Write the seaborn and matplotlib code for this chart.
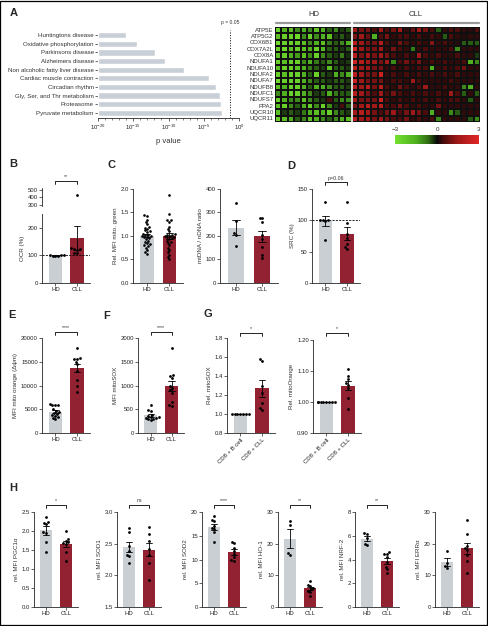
import numpy as np
import pandas as pd
import matplotlib
matplotlib.use("Agg")
import matplotlib.pyplot as plt
import matplotlib.transforms as mtransforms
from matplotlib.colors import LinearSegmentedColormap
from matplotlib.patches import Rectangle
import seaborn as sns
import warnings
warnings.filterwarnings('ignore')

W, H = 489, 626
GRAY = "#c8cfd6"
RED = "#a50f23"

# ---- A: pathway enrichment ----
pathways = ["Huntingtons disease", "Oxidative phosphorylation", "Parkinsons disease",
            "Alzheimers disease", "Non alcoholic fatty liver disease",
            "Cardiac muscle contraction", "Circadian rhythm",
            "Gly, Ser, and Thr metabolism", "Proteasome", "Pyruvate metabolism"]
pvalues = [1e-16, 3e-15, 1.3e-12, 3.5e-11, 1.6e-8, 5e-5, 5e-4, 2.2e-3, 2.8e-3, 4e-3]

# ---- A: heatmap ----
genes = ["ATP5E", "ATP5G2", "COX6B1", "COX7A2L", "COX8A", "NDUFA1", "NDUFA10", "NDUFA2",
         "NDUFA7", "NDUFB8", "NDUFC1", "NDUFS7", "PPA2", "UQCR10", "UQCR11"]
hd_expr = [
    [-2.5, -1.5, -2, -1, -1.5, -1, -2, -1.5, -0.5, -1, -0.3, -0.5],
    [-2, -2.5, -2.5, -2.8, -1, -2.5, -1, -1.5, -2, -0.3, -0.5, -0.2],
    [-2.8, -2.5, -2.5, -2.5, -2, -1, -1.5, -2, -0.8, -0.5, -1, -1.5],
    [-2.5, -2.8, -2, -2.5, -2, -1.5, -2.5, -1.8, -0.5, -0.5, -0.3, -0.5],
    [-2, -2.5, -1.5, -1.2, -2, -1, -2.5, -1, -0.5, -0.3, -0.8, -0.2],
    [-2.5, -2, -2.5, -2.5, -1, -1.5, -0.8, -0.5, -1, -0.5, -0.2, -0.3],
    [-2, -2.5, -2.5, -2, -1.5, -0.8, -0.5, -0.3, -2, -0.5, -0.5, -0.3],
    [-2.5, -2, -2.5, -2.5, -1.5, -0.5, -2.5, -0.5, -0.3, -1.5, -1, -1.5],
    [-2.8, -2.5, -2.5, -2.5, -1.5, -1, -0.5, -0.5, -0.3, -0.5, -0.5, -0.3],
    [-2, -1.5, -2.5, -2.5, -1.5, -0.5, -1.5, -1.5, -1, -0.5, -0.5, -0.3],
    [-1, -1.5, -2.5, -2.5, -1.5, -1, -0.3, -0.5, -1.5, -0.8, -0.5, -0.5],
    [-2.5, -1.5, -1, -1, -2, -1, -0.5, -0.3, 0.5, -0.5, -1, -1],
    [-2, -2.5, -1, -0.5, -1.5, -2.5, -1, -2.5, -1, -0.3, 0.5, -0.5],
    [-2, -0.3, -0.5, -0.3, -0.8, -1.5, -2, -1.5, -2.5, -1, -0.5, -0.3],
    [-2.5, -2, -1.5, -0.5, -1, -2, -1.5, -1, -0.5, -1, -1.5, -2],
]
cll_expr = [
    [1.5, 1, 1, 0.5, 1.5, 0.5, 1, 1.5, 0.3, 0.8, 1.5, 1, 0.5, -0.5, 0.3, 0.5, 0.5, 0.3, 0.2, 0.5],
    [1, 1.5, 0.8, -1.5, 0.5, 1, 0.3, 0.5, 0.5, 0.3, 0.5, 0.2, 0.5, 0.3, -0.5, 0.5, 0.3, 0.2, 0.3, 0.3],
    [2, 1.5, 1, 1, 2, 0.5, 0.3, 1, 0.5, 0.3, 0.5, 0.3, 1.2, 0.3, 0.5, 0.3, 0.2, -0.5, -0.5, -0.5],
    [2.5, 1.5, 1, 1, 1.5, 0.3, 1, 0.5, 0.3, -0.8, 0.3, 0.5, 0.3, 0.3, 0.3, 0.5, -1, 0.3, 0.3, 0.3],
    [2, 1, 1.5, 1, 1.5, 1, 0.5, 0.3, 0.5, 0.3, 1.5, 0.5, 0.3, 0.5, 0.3, 0.3, 0.5, 0.3, 0.3, -0.3],
    [2.5, 2, 1.5, 1.5, 1, 1.5, -1, 0.5, 1, 0.5, 1, 0.3, 0.5, 0.3, 0.5, 0.3, 0.3, 0.5, -1.5, -1],
    [2, 1.5, 1.5, 1, 1, 0.3, 0.5, 0.3, 0.5, 0.3, 0.5, 0.5, -1.5, 0.3, 0.5, 0.3, 0.5, 1, 0.3, 0.3],
    [2, 1.5, 1, 1, 2.5, 0.3, 0.5, 0.3, 0.5, 0.3, 0.5, 0.3, 0.5, 0.3, 0.5, 0.3, 0.5, 0.3, 0.3, 0.3],
    [2.5, 1.5, 1, 1, 1, 0.3, 0.5, 0.5, 0.3, 1.5, 0.5, 0.3, 0.3, 0.3, 0.3, 0.5, 0.3, 0.3, 0.3, 0.3],
    [2, 1.5, 2, 1, 2, 0.5, 0.3, 1, 0.5, 0.3, 0.5, 1.5, 0.3, 0.3, 0.5, 0.3, 0.3, -1, -1.5, 0.3],
    [2, 1.5, 1, 0.5, 1.5, 0.5, 1, 0.5, 0.3, 0.5, 0.3, 0.5, 0.3, 0.5, 0.3, 1.5, 0.5, -0.5, 0.3, -0.5],
    [1.5, 1, 1, 1, 2.5, 0.5, 0.3, 0.5, 0.3, 0.5, 0.3, 0.5, 0.3, 0.5, 0.3, 0.5, 0.5, 0.3, -0.5, 0.3],
    [1, 1.5, 2, 1.5, 2, 0.5, 0.5, 1, 0.5, 0.3, 0.5, 0.3, 0.3, 1, 0.3, 0.3, 0.3, 0.3, 0.3, 0.3],
    [1.5, 2, 1.5, 1, 0.5, 1, 1.5, 0.5, 1, 1.5, 1, 0.5, -1.5, 0.3, 0.3, -1, -0.5, 0.3, 0.3, 0.3],
    [2, 1.5, 1.5, 1, 1.5, 1, 0.5, 0.5, 1, 0.3, 0.5, 0.3, 0.5, -1, 0.3, 0.3, 0.3, 0.3, -0.5, -1],
]

# ---- B-H: per-donor values ----
ocr_hd = [97, 99, 101, 100, 98, 100]
ocr_cll = [430, 126, 124, 122, 120, 108, 110]

green_hd = [1.45, 1.43, 1.35, 1.3, 1.25, 1.2, 1.18, 1.15, 1.12, 1.1, 1.08, 1.05, 1.03, 1.02, 1.0,
            1.0, 0.98, 0.97, 0.95, 0.93, 0.9, 0.88, 0.85, 0.82, 0.8, 0.78, 0.75, 0.7, 0.65, 0.62]
green_cll = [1.87, 1.47, 1.35, 1.33, 1.3, 1.2, 1.15, 1.1, 1.05, 1.03, 1.02, 1.0, 1.0, 0.98,
             0.97, 0.95, 0.93, 0.9, 0.88, 0.85, 0.8, 0.75, 0.7, 0.65, 0.6, 0.55, 0.5]

mtdna_hd = [339, 262, 213, 205, 158]
mtdna_cll = [278, 275, 259, 205, 188, 153, 120, 105]

src_hd = [130, 100, 101, 99, 100, 68]
src_cll = [130, 95, 78, 72, 62, 58, 55]

orange_hd = [6100, 6000, 5900, 5900, 5000, 4700, 4400, 4200, 4000, 3800, 3600, 3400, 3200, 3000]
orange_cll = [17800, 15700, 15500, 15600, 15000, 14500, 13100, 11200, 9900, 8700]

sox_hd = [600, 480, 470, 380, 350, 340, 330, 320, 310, 300, 290, 270]
sox_cll = [1800, 1230, 1200, 1150, 1000, 950, 900, 850, 650, 580, 560]

relsox_b = [1.0, 1.0, 1.0, 1.0, 1.0, 1.0, 1.0]
relsox_cll = [1.58, 1.56, 1.30, 1.22, 1.12, 1.06, 1.04]

relorange_b = [1.0, 1.0, 1.0, 1.0, 1.0, 1.0, 1.0, 1.0]
relorange_cll = [1.105, 1.085, 1.074, 1.061, 1.054, 1.045, 1.013, 0.977]

pgc_hd = [2.38, 2.24, 2.22, 2.18, 1.97, 1.95, 1.72, 1.46]
pgc_cll = [2.0, 1.78, 1.74, 1.70, 1.68, 1.65, 1.46, 1.2]
sod1_hd = [2.75, 2.68, 2.47, 2.38, 2.32, 2.30, 2.20]
sod1_cll = [2.77, 2.65, 2.55, 2.42, 2.32, 2.20, 1.93]
sod2_hd = [19.2, 18.4, 18.2, 17.0, 16.6, 16.4, 15.8, 13.6]
sod2_cll = [13.7, 13.4, 12.4, 11.8, 11.2, 10.6, 9.8, 9.6]
ho1_hd = [27.2, 25.9, 17.0, 16.4]
ho1_cll = [8.3, 7.1, 6.5, 6.0, 5.6, 5.2, 4.6, 3.6]
nrf2_hd = [6.2, 6.15, 5.8, 5.3, 5.2]
nrf2_cll = [4.6, 4.5, 4.45, 4.2, 3.8, 3.4, 3.2, 2.9]
erra_hd = [17.8, 14.0, 12.8, 12.4]
erra_cll = [27.5, 23.0, 19.2, 18.6, 18.0, 16.4, 14.6, 10.6]

sns.set_style("ticks")
plt.rcParams['font.family'] = ['Liberation Sans', 'DejaVu Sans']
plt.rcParams['axes.linewidth'] = 0.6

fig = plt.figure(figsize=(W / 100, H / 100), dpi=100)


def px(x0, y0, x1, y1):
    """pixel box -> figure fraction rect"""
    return [x0 / W, 1 - y1 / H, (x1 - x0) / W, (y1 - y0) / H]


def style_ax(ax):
    sns.despine(ax=ax)
    ax.tick_params(labelsize=4.3, length=2, width=0.5, pad=1, colors="#222222")
    ax.set_xlabel("")


def bracket(ax, y, text):
    tr = mtransforms.blended_transform_factory(ax.transData, fig.transFigure)
    yf = 1 - y / H
    d = 3 / H
    ax.plot([0, 0, 1, 1], [yf - d, yf, yf, yf - d], color="k", lw=0.6,
            transform=tr, clip_on=False)
    ax.text(0.5, yf + 1.5 / H, text, transform=tr, ha="center", va="bottom",
            fontsize=3.8, color="#333333")


def bar_panel(box, hd, cll, ylim, yticks, ylabel, labels=("HD", "CLL"), size=2.0):
    ax = fig.add_axes(px(*box))
    df = pd.DataFrame({"group": [labels[0]] * len(hd) + [labels[1]] * len(cll),
                       "value": list(hd) + list(cll)})
    sns.barplot(data=df, x="group", y="value", hue="group", order=list(labels),
                hue_order=list(labels), palette=[GRAY, RED], errorbar="se",
                capsize=0.3, width=0.62, err_kws={"color": "k", "linewidth": 0.6},
                legend=False, ax=ax)
    sns.swarmplot(data=df, x="group", y="value", order=list(labels), color="k",
                  size=size, ax=ax)
    for p in ax.patches:
        p.set_linewidth(0)
    ax.set_xlim(-0.62, 1.6)
    ax.set_ylim(*ylim)
    ax.set_yticks(yticks)
    ax.set_ylabel(ylabel, fontsize=4.5, labelpad=2, color="#333333")
    style_ax(ax)
    return ax


# ---------------- Panel A: bars ----------------
axA = fig.add_axes(px(98, 30, 239, 118))
axA.set_xscale("log")
axA.barh(pathways, [v - 1e-20 for v in pvalues], left=1e-20, height=0.72, color=GRAY)
axA.set_xlim(1e-20, 1)
axA.set_ylim(9.6, -0.6)
axA.axvline(0.05, color="k", ls=":", lw=0.7)
axA.text(0.05, -1.2, "p = 0.05", fontsize=3.6, ha="center", va="bottom", color="#333333")
axA.set_xticks([1e-20, 1e-15, 1e-10, 1e-5, 1])
axA.xaxis.set_minor_locator(matplotlib.ticker.LogLocator(base=10, subs=[1.0], numticks=30))
axA.xaxis.set_minor_formatter(matplotlib.ticker.NullFormatter())
axA.set_xlabel("p value", fontsize=5.5, color="#333333")
sns.despine(ax=axA, left=True)
axA.tick_params(axis="y", labelsize=4.4, length=2, width=0.5, pad=1, colors="#333333")
axA.tick_params(axis="x", which="major", labelsize=4.3, length=2.5, width=0.5, pad=1)
axA.tick_params(axis="x", which="minor", length=1.2, width=0.4)

# ---------------- Panel A: heatmap ----------------
axH = fig.add_axes(px(275, 27, 480, 122))
cax = fig.add_axes(px(395, 135, 479, 144))
mat = np.hstack([np.array(hd_expr), np.array(cll_expr)])
cmap = LinearSegmentedColormap.from_list(
    "gkr", [(0, "#74e02e"), (0.25, "#4fb020"), (0.4, "#2e6a14"), (0.5, "#0a0a0a"),
            (0.58, "#4a0c0c"), (0.75, "#a01818"), (1, "#e02626")])
sns.heatmap(mat, cmap=cmap, vmin=-3, vmax=3, ax=axH, cbar_ax=cax,
            cbar_kws={"orientation": "horizontal", "ticks": [-3, 0, 3]},
            xticklabels=False, yticklabels=genes, linewidths=0.2, linecolor="#101010")
axH.tick_params(axis="y", length=0, labelsize=4.3, pad=1, colors="#333333")
axH.set_yticklabels(genes, rotation=0)
n_hd = len(hd_expr[0])
n_all = mat.shape[1]
axH.axvline(n_hd, color="white", lw=1.2)
axH.plot([0.1, n_hd - 0.3], [-0.6, -0.6], color="#9a9a9a", lw=1.6, clip_on=False)
axH.plot([n_hd + 0.3, n_all - 0.1], [-0.6, -0.6], color="#9a9a9a", lw=1.6, clip_on=False)
axH.text(n_hd / 2, -1.4, "HD", ha="center", va="bottom", fontsize=5.5, color="#333333")
axH.text((n_hd + n_all) / 2, -1.4, "CLL", ha="center", va="bottom", fontsize=5.5,
         color="#333333")
cax.xaxis.set_ticks_position("top")
cax.tick_params(length=0, labelsize=4.5, pad=2, colors="#333333")
for sp in cax.spines.values():
    sp.set_visible(False)
cbar = axH.collections[0].colorbar
if cbar is not None:
    cbar.outline.set_visible(False)

# ---------------- Panel B (broken axis) ----------------
axB = bar_panel((42, 214, 90, 283), ocr_hd, ocr_cll, (0, 250), [0, 100, 200], "OCR (%)")
axB.axhline(100, color="k", ls="--", lw=0.6, dashes=(2.5, 1.5))
axBt = fig.add_axes(px(42, 188, 90, 206))
dfB = pd.DataFrame({"group": ["HD"] * len(ocr_hd) + ["CLL"] * len(ocr_cll),
                    "value": ocr_hd + ocr_cll})
sns.swarmplot(data=dfB, x="group", y="value", order=["HD", "CLL"], color="k", size=2.0, ax=axBt)
axBt.set_xlim(-0.62, 1.6)
axBt.set_ylim(280, 530)
axBt.set_yticks([300, 400, 500])
axBt.set_ylabel("")
sns.despine(ax=axBt, bottom=True)
axBt.set_xticks([])
axBt.set_xlabel("")
axBt.tick_params(labelsize=4.3, length=2, width=0.5, pad=1, colors="#222222")
bracket(axBt, 181, "**")

# ---------------- Panel C ----------------
bar_panel((133, 189, 183, 283), green_hd, green_cll, (0, 2.0), [0, 0.5, 1.0, 1.5, 2.0],
          "Rel. MFI mito. green", size=1.9)
bar_panel((220, 189, 278, 283), mtdna_hd, mtdna_cll, (0, 400), [0, 100, 200, 300, 400],
          "mtDNA / nDNA ratio")

# ---------------- Panel D ----------------
axD = bar_panel((312, 189, 360, 283), src_hd, src_cll, (0, 150), [0, 50, 100, 150], "SRC (%)")
axD.axhline(100, color="k", ls="--", lw=0.6, dashes=(2.5, 1.5))
bracket(axD, 182, "p=0.06")

# ---------------- Panel E / F ----------------
axE = bar_panel((42, 338, 90, 433), orange_hd, orange_cll, (0, 20000),
                [0, 5000, 10000, 15000, 20000], "MFI mito orange (\u0394\u03c8m)")
bracket(axE, 332, "****")
axF = bar_panel((138, 338, 184, 433), sox_hd, sox_cll, (0, 2000),
                [0, 500, 1000, 1500, 2000], "MFI mitoSOX")
bracket(axF, 332, "****")

# ---------------- Panel G ----------------
glabels = ("CD8 + B cell", "CD8 + CLL")
axG1 = bar_panel((227, 338, 275, 433), relsox_b, relsox_cll, (0.8, 1.8),
                 [0.8, 1.0, 1.2, 1.4, 1.6, 1.8], "Rel. mitoSOX", labels=glabels)
axG2 = bar_panel((313, 340, 361, 433), relorange_b, relorange_cll, (0.9, 1.2),
                 [0.9, 1.0, 1.1, 1.2], "Rel. mitoOrange", labels=glabels)
axG2.set_yticklabels(["0.90", "1.00", "1.10", "1.20"])
for ax in (axG1, axG2):
    ax.set_xticks([0, 1])
    ax.set_xticklabels(glabels, rotation=45, ha="right", rotation_mode="anchor", fontsize=4.3)
    bracket(ax, 333, "*")

# ---------------- Panel H ----------------
h_specs = [
    ((34, 78), pgc_hd, pgc_cll, (0, 2.5), [0, 0.5, 1.0, 1.5, 2.0, 2.5], "rel. MFI PGC1\u03b1", "*"),
    ((117, 161), sod1_hd, sod1_cll, (1.5, 3.0), [1.5, 2.0, 2.5, 3.0], "rel. MFI SOD1", "ns"),
    ((202, 246), sod2_hd, sod2_cll, (0, 20), [0, 5, 10, 15, 20], "rel. MFI SOD2", "****"),
    ((278, 322), ho1_hd, ho1_cll, (0, 30), [0, 10, 20, 30], "rel. MFI HO-1", "**"),
    ((355, 399), nrf2_hd, nrf2_cll, (0, 8), [0, 2, 4, 6, 8], "rel. MFI NRF-2", "**"),
    ((435, 479), erra_hd, erra_cll, (0, 30), [0, 10, 20, 30], "rel. MFI ERR\u03b1", None),
]
for (x0, x1), hd, cll, yl, yt, lab, sig in h_specs:
    ax = bar_panel((x0, 512, x1, 607), hd, cll, yl, yt, lab)
    if sig:
        bracket(ax, 505, sig)

# ---------------- panel letters + frame ----------------
for letter, (x, y) in {"A": (10, 13), "B": (9, 164), "C": (108, 165), "D": (287, 166),
                       "E": (8, 315), "F": (103, 316), "G": (203, 314), "H": (9, 488)}.items():
    fig.text(x / W, 1 - y / H, letter, fontsize=8, fontweight="bold", va="center", ha="left")

fig.add_artist(Rectangle((0.001, 0.001), 0.995, 0.997, transform=fig.transFigure,
                         fill=False, lw=0.9, ec="k"))

fig.savefig("out.png", dpi=100)
